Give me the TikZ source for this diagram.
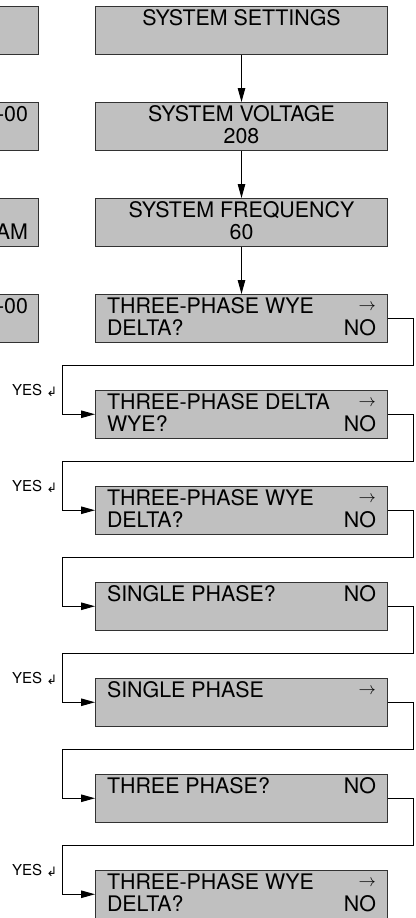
\documentclass[tikz,border=0pt]{standalone}
\usepackage{fontspec}
\setmainfont{TeX Gyre Heros}
\newfontfamily\symfont{DejaVu Sans}
\usetikzlibrary{arrows.meta}
\definecolor{boxfill}{RGB}{192,192,192}
\definecolor{boxline}{RGB}{50,50,50}
\newcommand\lnstrut{\rule[-4.7pt]{0pt}{22pt}}
\newcommand\rar{\raisebox{3pt}{\fontsize{18.5}{18.5}\selectfont$\rightarrow$}}
\newcommand\lbox[4]{\parbox{269pt}{\lnstrut #1\hfill #2\\\lnstrut #3\hfill #4}}
\newcommand\cbox[2]{\parbox{269pt}{\centering\lnstrut #1\\\lnstrut #2}}
\newcommand\rbox[2]{\parbox{40pt}{\lnstrut\hfill #1\\\lnstrut\hfill #2}}
\newcommand\yesmark{YES {\symfont\fontsize{13}{13}\selectfont\raisebox{-1.5pt}{↲}}}
\begin{document}
\begin{tikzpicture}[x=1pt,y=-1pt,
  box/.style={draw=boxline, line width=1pt, fill=boxfill, minimum width=292pt,
    minimum height=47.5pt, inner xsep=11.5pt, inner ysep=0pt, anchor=north west,
    font=\fontsize{21.4}{22}\selectfont},
  sbox/.style={box, minimum width=60pt, inner xsep=10pt, anchor=north east},
  flow/.style={line width=1pt, -{Triangle[length=14pt,width=7.5pt]}},
  yes/.style={font=\fontsize{15}{15}\selectfont, anchor=base west, inner sep=0pt}]
\useasboundingbox (0,0) rectangle (415,918);
\clip (0,0) rectangle (415,918);

% left column (partly cut off)
\node[sbox] (s1) at (38.5,6) {\rbox{}{}};
\node[sbox] (s2) at (38.5,102) {\rbox{-00}{}};
\node[sbox] (s3) at (38.5,198) {\rbox{}{AM}};
\node[sbox] (s4) at (38.5,294) {\rbox{-00}{}};

% main column
\node[box] (b1) at (95,6) {\cbox{SYSTEM SETTINGS}{}};
\node[box] (b2) at (95,102) {\cbox{SYSTEM VOLTAGE}{208}};
\node[box] (b3) at (95,198) {\cbox{SYSTEM FREQUENCY}{60}};
\node[box] (b4) at (95,294) {\lbox{THREE-PHASE WYE}{\rar}{DELTA?}{NO}};
\node[box] (b5) at (95,390) {\lbox{THREE-PHASE DELTA}{\rar}{WYE?}{NO}};
\node[box] (b6) at (95,486) {\lbox{THREE-PHASE WYE}{\rar}{DELTA?}{NO}};
\node[box] (b7) at (95,582) {\lbox{SINGLE PHASE?}{NO}{}{}};
\node[box] (b8) at (95,678) {\lbox{SINGLE PHASE}{\rar}{}{}};
\node[box] (b9) at (95,774) {\lbox{THREE PHASE?}{NO}{}{}};
\node[box] (b10) at (95,870) {\lbox{THREE-PHASE WYE}{\rar}{DELTA?}{NO}};

% straight arrows
\draw[flow] (b1.south) -- (b2.north);
\draw[flow] (b2.south) -- (b3.north);
\draw[flow] (b3.south) -- (b4.north);

% NO loops
\coordinate (r4) at (413,365.75);  \coordinate (l4) at (62,365.75);
\coordinate (r5) at (413,461.75);  \coordinate (l5) at (62,461.75);
\coordinate (r6) at (413,557.75);  \coordinate (l6) at (62,557.75);
\coordinate (r7) at (413,653.75);  \coordinate (l7) at (62,653.75);
\coordinate (r8) at (413,749.75);  \coordinate (l8) at (62,749.75);
\coordinate (r9) at (413,845.75);  \coordinate (l9) at (62,845.75);
\draw[flow] (b4.east) -| (r4) -- (l4) |- (b5.west);
\draw[flow] (b5.east) -| (r5) -- (l5) |- (b6.west);
\draw[flow] (b6.east) -| (r6) -- (l6) |- (b7.west);
\draw[flow] (b7.east) -| (r7) -- (l7) |- (b8.west);
\draw[flow] (b8.east) -| (r8) -- (l8) |- (b9.west);
\draw[flow] (b9.east) -| (r9) -- (l9) |- (b10.west);

% YES labels
\node[yes] (y5) at (12,395) {\yesmark};
\node[yes] (y6) at (12,491) {\yesmark};
\node[yes] (y8) at (12,683) {\yesmark};
\node[yes] (y10) at (12,875) {\yesmark};
\end{tikzpicture}
\end{document}
